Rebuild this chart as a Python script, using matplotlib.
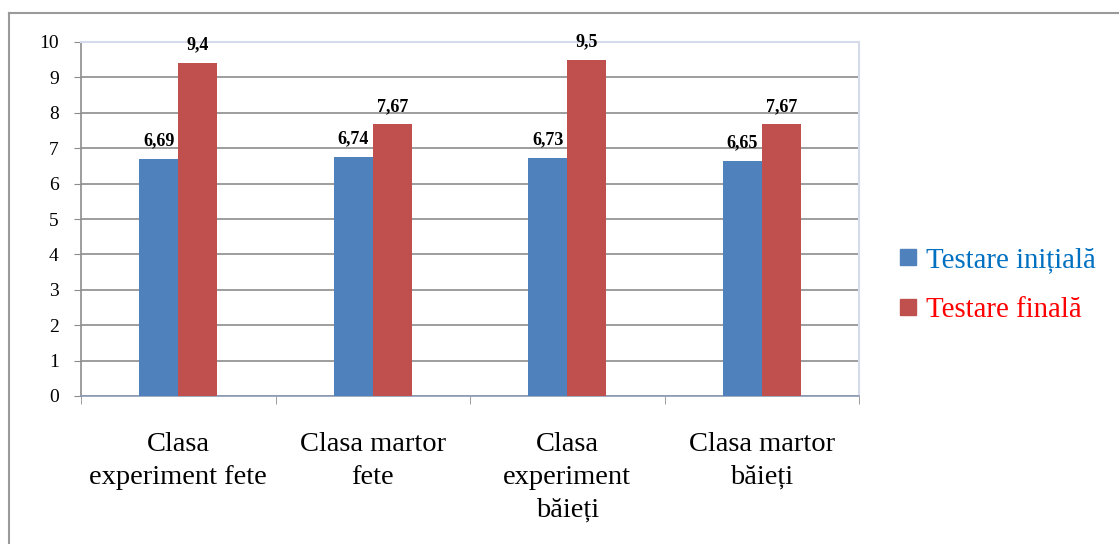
import numpy as np
import matplotlib
matplotlib.use("Agg")
from matplotlib import pyplot as plt
from matplotlib.lines import Line2D

plt.rcParams['font.family'] = ['Liberation Serif', 'DejaVu Serif']

# data
categories = ["Clasa\nexperiment fete", "Clasa martor\nfete", "Clasa\nexperiment\nbăieți", "Clasa martor\nbăieți"]
initial = [6.69, 6.74, 6.73, 6.65]
final = [9.4, 7.67, 9.5, 7.67]
series_names = ["Testare inițială", "Testare finală"]
yticks = list(range(0, 11))

bar_colors = ["#4F81BD", "#C0504D"]
text_colors = ["#0070C0", "#FF0000"]

fig = plt.figure(figsize=(11.19, 5.44), dpi=100)
ax = fig.add_axes([81/1119, 1-396/544, 778/1119, 354/544])

x = np.arange(len(categories))
w = 0.2
b1 = ax.bar(x - w/2, initial, w, color=bar_colors[0], zorder=3)
b2 = ax.bar(x + w/2, final, w, color=bar_colors[1], zorder=3)

def fmt(v):
    return ("%g" % v).replace(".", ",")

for bars, vals in [(b1, initial), (b2, final)]:
    for r, v in zip(bars, vals):
        ax.annotate(fmt(v), (r.get_x() + r.get_width()/2, v), xytext=(0, 7),
                    textcoords="offset points", ha="center", va="bottom",
                    fontsize=13, fontweight="bold")

ax.set_xlim(-0.5, len(categories) - 0.5)
ax.set_ylim(0, 10)
ax.set_yticks(yticks)
ax.set_yticklabels([str(t) for t in yticks], fontsize=14)
ax.yaxis.grid(True, color="#8C8C8C", linewidth=1.2, zorder=0)
ax.set_axisbelow(True)

ax.set_xticks(x)
ax.set_xticklabels(categories, fontsize=20.5, linespacing=1.4)
ax.tick_params(axis="x", length=0, pad=26)
ax.set_xticks(np.arange(-0.5, len(categories)), minor=True)
ax.tick_params(axis="x", which="minor", length=6, color="#8C8C8C", direction="out")
ax.tick_params(axis="y", length=5, color="#8C8C8C", pad=11)

for s in ["top", "right"]:
    ax.spines[s].set_color("#D5DBEA")
    ax.spines[s].set_linewidth(1.5)
ax.spines["left"].set_color("#8C8C8C")
ax.spines["left"].set_linewidth(1.2)
ax.spines["bottom"].set_color("#8C9BB5")
ax.spines["bottom"].set_linewidth(1.2)

# legend
handles = [Line2D([], [], marker="s", linestyle="", markersize=11, color=c) for c in bar_colors]
leg = fig.legend(handles, series_names, loc="center left", bbox_to_anchor=(894/1119, 1-285/544),
                 frameon=False, fontsize=20.8, handletextpad=0.12, labelspacing=0.8,
                 handlelength=1.0, borderpad=0, borderaxespad=0)
for t, c in zip(leg.get_texts(), text_colors):
    t.set_color(c)

# outer frame
fig.add_artist(Line2D([9/1119, 9/1119], [0, 1-13/544], transform=fig.transFigure, color="#9A9A9A", linewidth=1.5))
fig.add_artist(Line2D([9/1119, 1], [1-13/544, 1-13/544], transform=fig.transFigure, color="#9A9A9A", linewidth=1.5))

fig.savefig("out.png", dpi=100)
